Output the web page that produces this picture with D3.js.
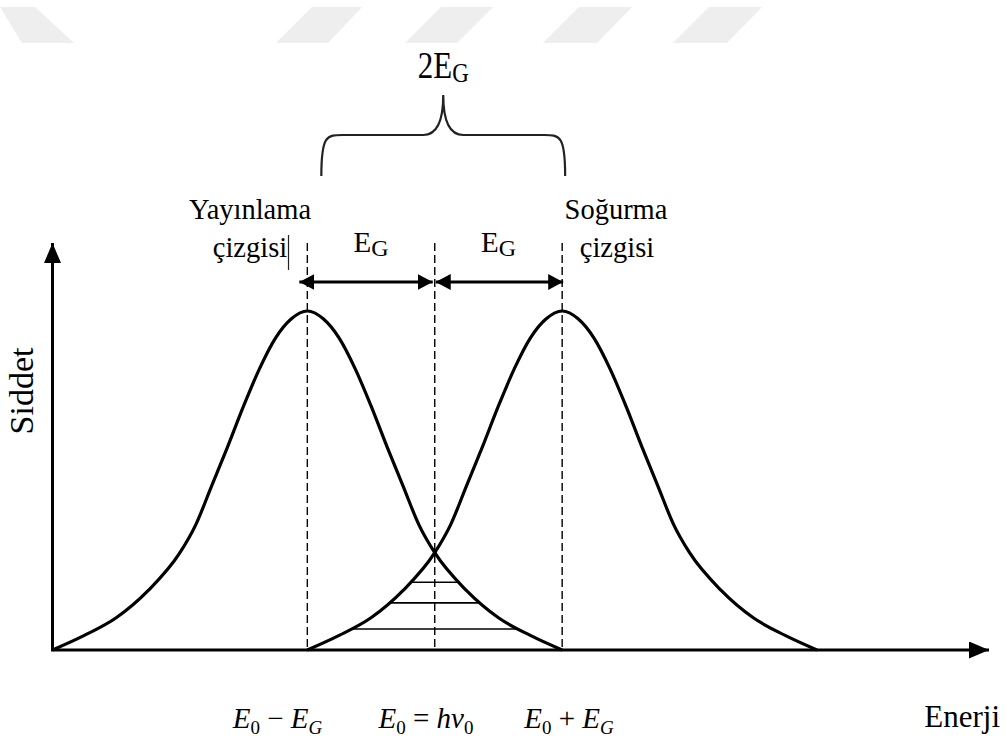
<!DOCTYPE html>
<html>
<head>
<meta charset="utf-8">
<script src="https://cdn.jsdelivr.net/npm/d3@7"></script>
<style>
  html, body { margin: 0; padding: 0; background: #fff; }
  svg { display: block; }
  text { font-family: "Liberation Serif", "Times New Roman", "DejaVu Serif", serif; fill: #000; }
</style>
</head>
<body>
<svg id="chart" width="1006" height="747"></svg>
<script>
// Line-shape profile: relative intensity vs. distance from the line centre (in units of E_G)
const profileOffset    = [0, 0.125, 0.25, 0.375, 0.5, 0.625, 0.75, 0.875, 1, 1.25, 1.5, 1.75, 2];
const profileIntensity = [1, 0.977, 0.92, 0.83, 0.72, 0.6, 0.485, 0.37, 0.287, 0.175, 0.095, 0.043, 0];

// Line centres: emission (E0 - EG) and absorption (E0 + EG), energy measured from E0 in units of EG
const lineCentres = [-1, 1];
const lineNames   = ["Yayınlama", "Soğurma"];
// Vertical guides at E0 - EG, E0, E0 + EG
const guideEnergies = [-1, 0, 1];
// Intensity levels of the hatching in the overlap region
const hatchLevels = [0.2, 0.139, 0.062];
// Energy labels under the axis
const energyLabels = ["E0-EG", "E0=hv0", "E0+EG"];

const serif = "'Liberation Serif', 'Times New Roman', serif";
const svg = d3.select("#chart");

// Faint watermark band along the top edge
const watermark = [
  [[0, 7], [35, 7], [74, 43], [22, 43]],
  [[312, 7], [362, 7], [328, 43], [276, 43]],
  [[441, 7], [493, 7], [457, 43], [405, 43]],
  [[579, 7], [632, 7], [597, 43], [543, 43]],
  [[709, 7], [762, 7], [727, 43], [673, 43]]
];
svg.append("g").selectAll("polygon").data(watermark).join("polygon")
  .attr("points", d => d.map(p => p.join(",")).join(" "))
  .attr("fill", "#eeeeee");

const x = d3.scaleLinear().domain([-3, 4.35]).range([52.5, 989]);
const y = d3.scaleLinear().domain([0, 1]).range([650, 311]);

// arrowheads
const defs = svg.append("defs");
defs.append("marker").attr("id", "axisHead")
  .attr("viewBox", "0 0 20 17").attr("refX", 20).attr("refY", 8.5)
  .attr("markerWidth", 20).attr("markerHeight", 17).attr("markerUnits", "userSpaceOnUse")
  .attr("orient", "auto")
  .append("path").attr("d", "M0,0 L20,8.5 L0,17 Z").attr("fill", "#000");
defs.append("marker").attr("id", "dimHead")
  .attr("viewBox", "0 0 15 16").attr("refX", 15).attr("refY", 8)
  .attr("markerWidth", 15).attr("markerHeight", 16).attr("markerUnits", "userSpaceOnUse")
  .attr("orient", "auto-start-reverse")
  .append("path").attr("d", "M0,0 L15,8 L0,16 Z").attr("fill", "#000");

// Dashed guides
svg.append("g").selectAll("line").data(guideEnergies).join("line")
  .attr("x1", d => x(d)).attr("x2", d => x(d))
  .attr("y1", 243).attr("y2", y(0))
  .attr("stroke", "#000").attr("stroke-width", 1.4)
  .attr("stroke-dasharray", "8,4");

// Two line-shape curves
const line = d3.line().x(d => x(d[0])).y(d => y(d[1])).curve(d3.curveMonotoneX);
function shape(c) {
  const pts = [];
  for (let i = profileOffset.length - 1; i > 0; i--) pts.push([c - profileOffset[i], profileIntensity[i]]);
  for (let i = 0; i < profileOffset.length; i++) pts.push([c + profileOffset[i], profileIntensity[i]]);
  return pts;
}
svg.append("g").selectAll("path").data(lineCentres).join("path")
  .attr("d", d => line(shape(d)))
  .attr("fill", "none").attr("stroke", "#000").attr("stroke-width", 3.2)
  .attr("stroke-linejoin", "round");

// offset at which the profile falls to a given intensity
function offsetAt(level) {
  for (let i = 1; i < profileOffset.length; i++) {
    if (profileIntensity[i] <= level) {
      const t = (profileIntensity[i - 1] - level) / (profileIntensity[i - 1] - profileIntensity[i]);
      return profileOffset[i - 1] + t * (profileOffset[i] - profileOffset[i - 1]);
    }
  }
  return profileOffset[profileOffset.length - 1];
}
// Hatching between the inner flanks
svg.append("g").selectAll("line").data(hatchLevels).join("line")
  .attr("x1", d => x(lineCentres[1] - offsetAt(d)))
  .attr("x2", d => x(lineCentres[0] + offsetAt(d)))
  .attr("y1", d => y(d)).attr("y2", d => y(d))
  .attr("stroke", "#000").attr("stroke-width", 1.6);

// Axes
svg.append("line").attr("x1", x(-3)).attr("y1", y(0)).attr("x2", x(-3)).attr("y2", 243)
  .attr("stroke", "#000").attr("stroke-width", 3).attr("marker-end", "url(#axisHead)");
svg.append("line").attr("x1", x(-3) - 1.5).attr("y1", y(0)).attr("x2", 989).attr("y2", y(0))
  .attr("stroke", "#000").attr("stroke-width", 3).attr("marker-end", "url(#axisHead)");

// E_G dimension arrows
const dimY = 282;
const dims = [[guideEnergies[0], guideEnergies[1]], [guideEnergies[1], guideEnergies[2]]];
svg.append("g").selectAll("line").data(dims).join("line")
  .attr("x1", (d, i) => x(d[0]) - (i === 0 ? 8 : -1))
  .attr("x2", (d, i) => x(d[1]) - (i === 0 ? 2 : -1))
  .attr("y1", dimY).attr("y2", dimY)
  .attr("stroke", "#000").attr("stroke-width", 3)
  .attr("marker-start", "url(#dimHead)").attr("marker-end", "url(#dimHead)");

// E_G labels
const egLabels = svg.append("g").selectAll("text").data(dims).join("text")
  .attr("x", d => (x(d[0]) + x(d[1])) / 2).attr("y", 252)
  .attr("text-anchor", "middle").attr("font-family", serif).attr("font-size", 29);
egLabels.append("tspan").text("E");
egLabels.append("tspan").attr("font-size", 24).attr("dy", 4).text("G");

// Line names
const nameX = [250, 616];
lineNames.forEach((n, i) => {
  svg.append("text").attr("x", nameX[i]).attr("y", 219).attr("text-anchor", "middle")
    .attr("font-family", serif).attr("font-size", 28.5).text(n);
  svg.append("text").attr("x", nameX[i] + (i === 0 ? 0 : 1)).attr("y", 257).attr("text-anchor", "middle")
    .attr("font-family", serif).attr("font-size", 28.5).text("çizgisi");
});
// text cursor after the emission label
svg.append("line").attr("x1", 288.5).attr("x2", 288.5).attr("y1", 235).attr("y2", 270)
  .attr("stroke", "#222").attr("stroke-width", 1.2);

// Brace spanning 2E_G
const bl = x(guideEnergies[0]) + 14, br = x(guideEnergies[2]) + 3, bm = (bl + br) / 2;
const braceTop = 95, braceBar = 135, braceEnd = 176;
svg.append("path")
  .attr("d", `M${bl},${braceEnd} C${bl},${braceBar - 2} ${bl + 6},${braceBar} ${bl + 24},${braceBar}
              L${bm - 20},${braceBar} C${bm - 6},${braceBar} ${bm},${braceBar - 14} ${bm},${braceTop}
              C${bm},${braceBar - 14} ${bm + 6},${braceBar} ${bm + 20},${braceBar}
              L${br - 24},${braceBar} C${br - 6},${braceBar} ${br},${braceBar - 2} ${br},${braceEnd}`)
  .attr("fill", "none").attr("stroke", "#222").attr("stroke-width", 2.2);

const twoEg = svg.append("text")
  .attr("transform", `translate(${bm},78) scale(1,1.2)`)
  .attr("text-anchor", "middle").attr("font-family", serif).attr("font-size", 31);
twoEg.append("tspan").text("2E");
twoEg.append("tspan").attr("font-size", 23).attr("dy", 3).text("G");

// Axis titles
svg.append("text").attr("transform", "translate(33,391) rotate(-90)")
  .attr("text-anchor", "middle").attr("font-family", serif).attr("font-size", 34).text("Siddet");
svg.append("text").attr("x", 1000).attr("y", 727).attr("text-anchor", "end")
  .attr("font-family", serif).attr("font-size", 31).text("Enerji");

// Energy labels under the axis
const labelX = [277.5, 426, 569];
const labelParts = [
  [["E", "i"], ["0", "sub"], [" − ", "n"], ["E", "i"], ["G", "isub"]],
  [["E", "i"], ["0", "sub"], [" = ", "n"], ["h", "i"], ["ν", "i"], ["0", "sub"]],
  [["E", "i"], ["0", "sub"], [" + ", "n"], ["E", "i"], ["G", "isub"]]
];
energyLabels.forEach((key, k) => {
  const t = svg.append("text").attr("x", labelX[k]).attr("y", 728)
    .attr("text-anchor", "middle").attr("font-family", serif).attr("font-size", 29);
  let lowered = false;
  labelParts[k].forEach(([s, kind]) => {
    const sp = t.append("tspan").text(s);
    const sub = kind === "sub" || kind === "isub";
    if (kind === "i" || kind === "isub") sp.attr("font-style", "italic");
    if (sub) sp.attr("font-size", 19);
    if (sub && !lowered) { sp.attr("dy", 6); lowered = true; }
    else if (!sub && lowered) { sp.attr("dy", -6); lowered = false; }
  });
});
</script>
</body>
</html>
